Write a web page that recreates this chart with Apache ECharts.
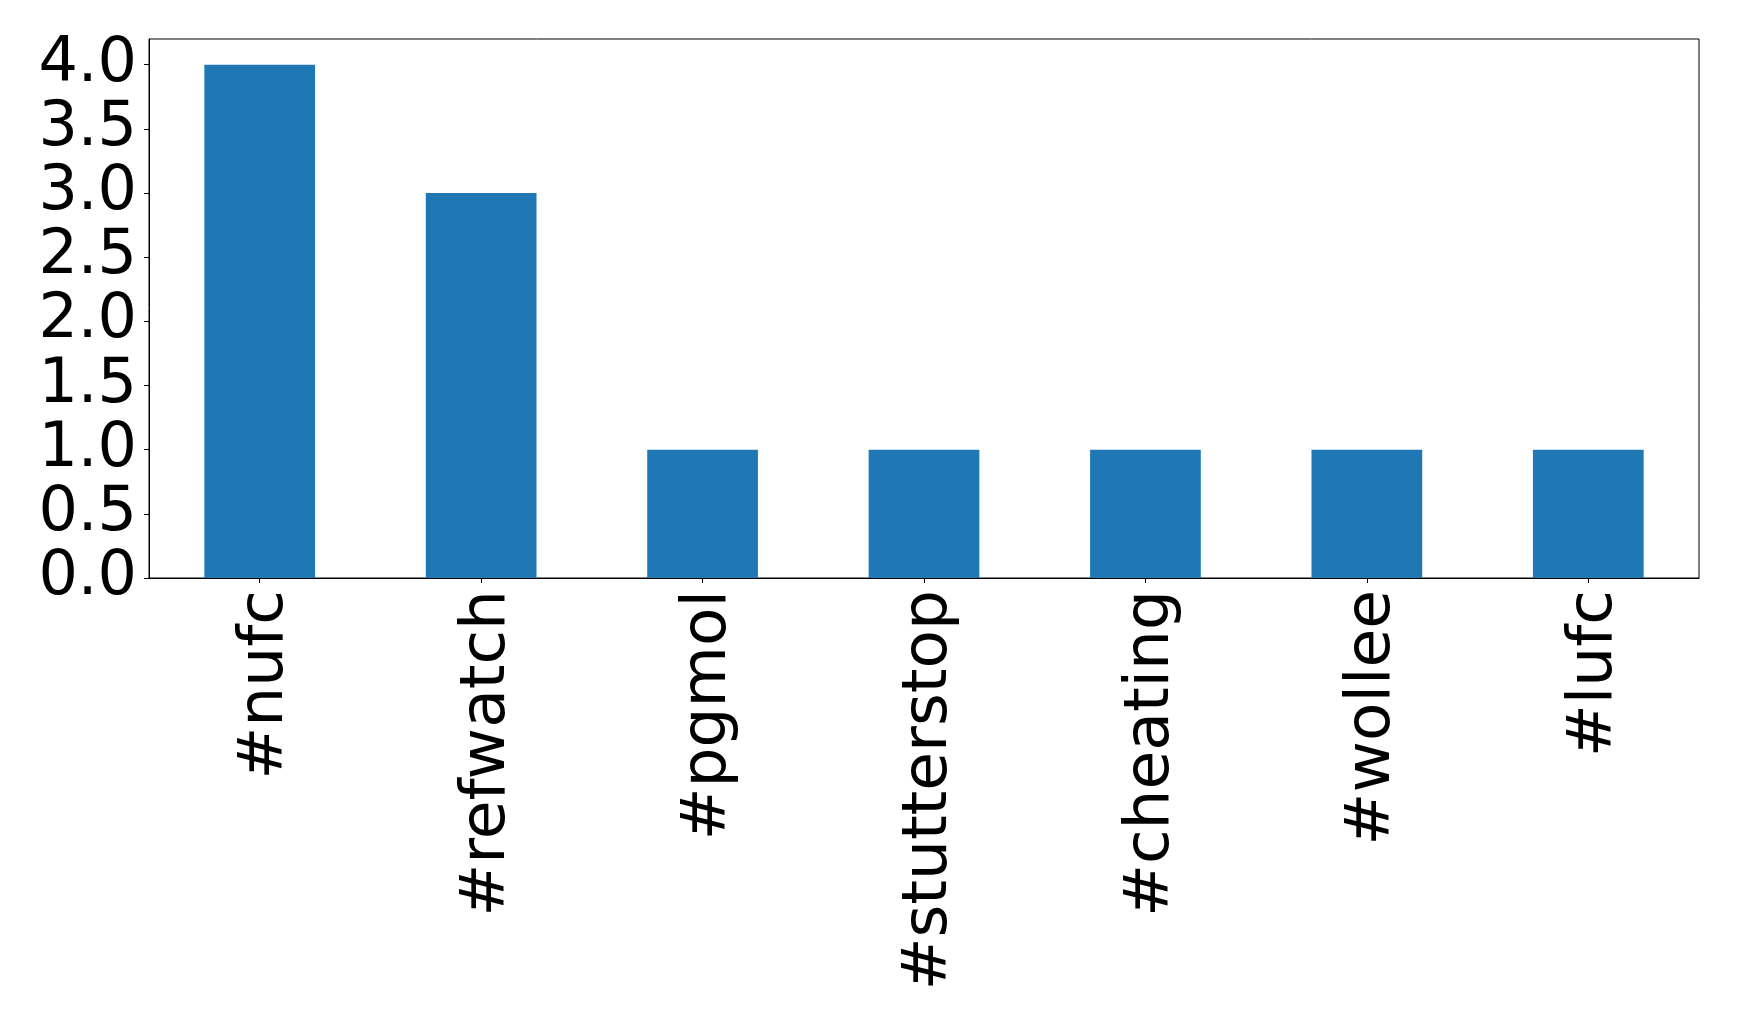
<!DOCTYPE html>
<html><head><meta charset="utf-8">
<script src="https://cdn.jsdelivr.net/npm/echarts@6/dist/echarts.min.js"></script>
<style>html,body{margin:0;padding:0;background:#fff}#c{width:1739px;height:1025px}</style>
</head><body><div id="c"></div>
<script>
const categories = ['#nufc', '#refwatch', '#pgmol', '#stutterstop', '#cheating', '#wollee', '#lufc'];
const counts = [4, 3, 1, 1, 1, 1, 1];
const yTicks = [0, 0.5, 1.0, 1.5, 2.0, 2.5, 3.0, 3.5, 4.0];

const chart = echarts.init(document.getElementById('c'), null, {renderer: 'canvas'});
const font = 'DejaVu Sans';
chart.setOption({
  animation: false,
  backgroundColor: '#fff',
  grid: {left: 149, right: 40, top: 39, bottom: 447, show: true, borderColor: '#000', borderWidth: 1, backgroundColor: 'transparent'},
  xAxis: {
    type: 'category', data: categories, boundaryGap: true,
    axisLine: {show: true, lineStyle: {color: '#000', width: 1}},
    axisTick: {show: true, alignWithLabel: true, length: 5, lineStyle: {color: '#000', width: 1}},
    axisLabel: {rotate: 90, interval: 0, margin: 12, color: '#000', fontFamily: font, fontSize: 63,
      formatter: v => '{t|' + v + '}',
      rich: {t: {fontFamily: font, fontSize: 63, color: '#000', padding: [12, 0, 0, 0]}}}
  },
  yAxis: {
    type: 'value', min: 0, max: 4.2,
    splitLine: {show: false},
    axisLine: {show: true, lineStyle: {color: '#000', width: 1}},
    axisTick: {show: true, length: 5, customValues: yTicks, lineStyle: {color: '#000', width: 1}},
    axisLabel: {customValues: yTicks, margin: 12, color: '#000', fontFamily: font, fontSize: 62,
      formatter: v => Number(v).toFixed(1)}
  },
  series: [{type: 'bar', data: counts, barWidth: '50%', itemStyle: {color: '#1f77b4'}}]
});
</script></body></html>
